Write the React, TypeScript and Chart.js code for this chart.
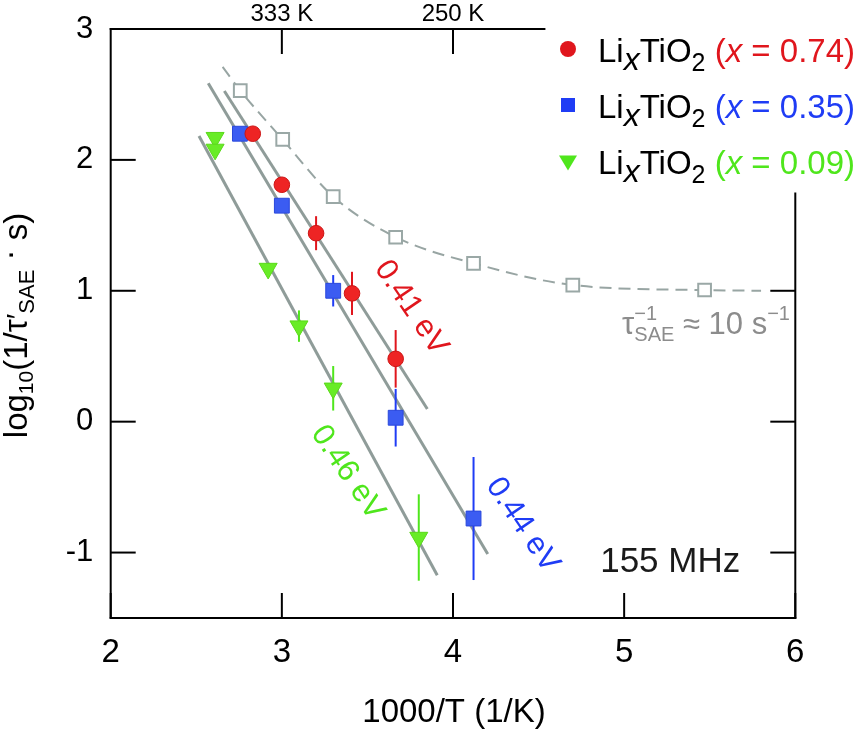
import React, { useEffect, useRef } from 'react';
import { Chart, registerables } from 'chart.js';
Chart.register(...registerables);

// ---------- data ----------
const redX = [2.83, 3.0, 3.2, 3.41, 3.665];
const redY = [2.2, 1.81, 1.44, 0.98, 0.48];
const redErr = [0, 0, 0.13, 0.165, 0.22];

const blueX = [2.755, 3.0, 3.3, 3.665, 4.12];
const blueY = [2.2, 1.65, 1.0, 0.03, -0.74];
const blueErr = [0, 0, 0.12, 0.22, 0.47];

const greenX = [2.61, 2.61, 2.92, 3.1, 3.3, 3.8];
const greenY = [2.17, 2.08, 1.17, 0.73, 0.255, -0.885];
const greenErr = [0, 0, 0, 0.12, 0.17, 0.33];

const grayX = [2.757, 3.005, 3.3, 3.665, 4.12, 4.7, 5.47];
const grayY = [2.53, 2.157, 1.72, 1.409, 1.21, 1.044, 1.006];

const curveX = [2.654, 2.757, 3.005, 3.3, 3.665, 4.12, 4.7, 5.47, 5.8];
const curveY = [2.71, 2.53, 2.155, 1.72, 1.41, 1.21, 1.044, 1.005, 1.0];

const fitRedX = [2.664, 3.85];
const fitRedY = [2.526, 0.097];
const fitBlueX = [2.57, 4.203];
const fitBlueY = [2.585, -1.011];
const fitGreenX = [2.516, 3.908];
const fitGreenY = [2.183, -1.173];

const xTicks = [2, 3, 4, 5, 6];
const yTicks = [-1, 0, 1, 2, 3];
const topTickValues = [3, 4];
const topTickLabels = ['333 K', '250 K'];
const rightTickValues = [1, 0, -1];
const legendValues = ['0.74', '0.35', '0.09'];
const energyLabels = ['0.41 eV', '0.44 eV', '0.46 eV'];

// ---------- layout / style (not data) ----------
const FAM = '"Liberation Sans", Arial, Helvetica, sans-serif';
const RED = '#e0161d';
const BLUE = '#1f3cf5';
const GREEN = '#4fe61c';
const GRAYLINE = '#8f9c99';
const TOP_AXIS_END = 4.54;
const RIGHT_AXIS_START = 1.75;
const energyPos = [
  { x: 3.755, y: 0.87, color: RED },
  { x: 4.406, y: -0.79, color: BLUE },
  { x: 3.384, y: -0.39, color: GREEN },
];

type Seg = { t: string; size: number; color?: string; italic?: boolean; dy?: number; noAdv?: boolean };
const fnt = (s: Seg) => `${s.italic ? 'italic ' : ''}${s.size}px ${FAM}`;
function richWidth(ctx: CanvasRenderingContext2D, segs: Seg[]) {
  let w = 0;
  for (const s of segs) {
    ctx.font = fnt(s);
    if (!s.noAdv) w += ctx.measureText(s.t).width;
  }
  return w;
}
function drawRich(ctx: CanvasRenderingContext2D, segs: Seg[], x: number, y: number, align: string, def: string) {
  const w = richWidth(ctx, segs);
  let cx = align === 'left' ? x : align === 'center' ? x - w / 2 : x - w;
  ctx.textAlign = 'left';
  ctx.textBaseline = 'alphabetic';
  for (const s of segs) {
    ctx.font = fnt(s);
    ctx.fillStyle = s.color || def;
    ctx.fillText(s.t, cx, y + (s.dy || 0));
    if (!s.noAdv) cx += ctx.measureText(s.t).width;
  }
}

const pts = (xs: number[], ys: number[]) => xs.map((x, i) => ({ x, y: ys[i] }));

const errSets: Record<number, { xs: number[]; ys: number[]; es: number[]; color: string }> = {
  0: { xs: redX, ys: redY, es: redErr, color: RED },
  1: { xs: blueX, ys: blueY, es: blueErr, color: BLUE },
  2: { xs: greenX, ys: greenY, es: greenErr, color: GREEN },
};

const errorBarPlugin = {
  id: 'errorBars',
  beforeDatasetDraw(chart: any, args: any) {
    const set = errSets[args.index];
    if (!set) return;
    const { ctx, scales } = chart;
    ctx.save();
    ctx.strokeStyle = set.color;
    ctx.lineWidth = 2;
    set.xs.forEach((x, i) => {
      const e = set.es[i];
      if (!e) return;
      const px = scales.x.getPixelForValue(x);
      ctx.beginPath();
      ctx.moveTo(px, scales.y.getPixelForValue(set.ys[i] + e));
      ctx.lineTo(px, scales.y.getPixelForValue(set.ys[i] - e));
      ctx.stroke();
    });
    ctx.restore();
  },
};

const decorPlugin = {
  id: 'decor',
  afterDraw(chart: any) {
    const { ctx, chartArea, scales } = chart;
    const { left: L, right: R, top: T, bottom: B } = chartArea;
    const px = (v: number) => scales.x.getPixelForValue(v);
    const py = (v: number) => scales.y.getPixelForValue(v);
    ctx.save();
    ctx.strokeStyle = '#000';
    ctx.lineWidth = 2;
    ctx.lineCap = 'butt';
    const line = (x1: number, y1: number, x2: number, y2: number) => {
      ctx.beginPath();
      ctx.moveTo(x1, y1);
      ctx.lineTo(x2, y2);
      ctx.stroke();
    };
    // axes
    line(L, T - 1, L, B + 1);
    line(L - 1, B, R + 1, B);
    line(L - 1, T, px(TOP_AXIS_END), T);
    line(R, py(RIGHT_AXIS_START), R, B + 1);
    const TL = 25;
    yTicks.forEach((v) => line(L, py(v), L + TL, py(v)));
    xTicks.forEach((v) => line(px(v), B, px(v), B - TL));
    topTickValues.forEach((v) => line(px(v), T, px(v), T + TL));
    rightTickValues.forEach((v) => line(R, py(v), R - TL, py(v)));

    // top labels
    ctx.fillStyle = '#000';
    ctx.font = `24px ${FAM}`;
    ctx.textAlign = 'center';
    ctx.textBaseline = 'alphabetic';
    topTickValues.forEach((v, i) => ctx.fillText(topTickLabels[i], px(v), T - 8));

    // x title
    ctx.font = `33px ${FAM}`;
    ctx.fillText('1000/T (1/K)', (L + R) / 2 + 1, 722);

    // y title
    ctx.save();
    ctx.translate(27, (T + B) / 2 + 2);
    ctx.rotate(-Math.PI / 2);
    drawRich(
      ctx,
      [
        { t: 'log', size: 33 },
        { t: '10', size: 21, dy: 6 },
        { t: '(1/\u03C4', size: 33 },
        { t: '\u2032', size: 30 },
        { t: 'SAE', size: 22, dy: 7 },
        { t: ' \u00B7', size: 33, dy: -7 },
        { t: ' s)', size: 33 },
      ],
      0,
      0,
      'center',
      '#000'
    );
    ctx.restore();

    // legend
    const rows = [49, 105, 161.5];
    const colors = [RED, BLUE, GREEN];
    const mx = 568;
    rows.forEach((ry, i) => {
      const c = colors[i];
      ctx.fillStyle = c;
      ctx.beginPath();
      if (i === 0) {
        ctx.arc(mx, ry, 8, 0, Math.PI * 2);
      } else if (i === 1) {
        ctx.rect(mx - 7, ry - 7, 14, 14);
      } else {
        ctx.moveTo(mx - 9, ry - 6);
        ctx.lineTo(mx + 9, ry - 6);
        ctx.lineTo(mx, ry + 9);
        ctx.closePath();
      }
      ctx.fill();
      drawRich(
        ctx,
        [
          { t: 'Li', size: 33 },
          { t: 'x', size: 32, italic: true, dy: 8 },
          { t: 'TiO', size: 33 },
          { t: '2', size: 25, dy: 9 },
          { t: ' (', size: 33, color: c },
          { t: 'x', size: 33, italic: true, color: c },
          { t: ' = ' + legendValues[i] + ')', size: 33, color: c },
        ],
        598,
        ry + 12.5,
        'left',
        '#000'
      );
    });

    // activation energy labels
    energyLabels.forEach((txt, i) => {
      const p = energyPos[i];
      ctx.save();
      ctx.translate(px(p.x), py(p.y));
      ctx.rotate((56 * Math.PI) / 180);
      ctx.font = `31px ${FAM}`;
      ctx.fillStyle = p.color;
      ctx.textAlign = 'center';
      ctx.textBaseline = 'middle';
      ctx.fillText(txt, 0, 0);
      ctx.restore();
    });

    // tau annotation
    drawRich(
      ctx,
      [
        { t: '\u03C4', size: 31 },
        { t: '\u22121', size: 20, dy: -14, noAdv: true },
        { t: 'SAE', size: 20, dy: 7 },
        { t: ' \u2248 10 s', size: 31 },
        { t: '\u22121', size: 20, dy: -14 },
      ],
      px(4.988),
      py(0.67),
      'left',
      '#8c8c8c'
    );

    // frequency
    ctx.font = `35px ${FAM}`;
    ctx.fillStyle = '#1a1a1a';
    ctx.textAlign = 'left';
    ctx.textBaseline = 'alphabetic';
    ctx.fillText('155 MHz', px(4.86), py(-1.148));
    ctx.restore();
  },
};

export default function App() {
  const ref = useRef<HTMLCanvasElement>(null);
  useEffect(() => {
    document.body.style.margin = '0';
    const chart = new Chart(ref.current as HTMLCanvasElement, {
      type: 'scatter',
      data: {
        datasets: [
          {
            data: pts(redX, redY),
            pointStyle: 'circle',
            pointRadius: 7.8,
            backgroundColor: '#ee2424',
            borderColor: '#cc1414',
            borderWidth: 1,
            order: 1,
          },
          {
            data: pts(blueX, blueY),
            pointStyle: 'rect',
            pointRadius: 10.5,
            backgroundColor: '#3b5cf2',
            borderColor: '#2a48dc',
            borderWidth: 1,
            order: 2,
          },
          {
            data: pts(greenX, greenY),
            pointStyle: 'triangle',
            pointRotation: 180,
            pointRadius: 10.4,
            backgroundColor: '#68ec26',
            borderColor: '#5ad81a',
            borderWidth: 1,
            order: 3,
          },
          {
            data: pts(grayX, grayY),
            pointStyle: 'rect',
            pointRadius: 9,
            backgroundColor: '#ffffff',
            borderColor: '#9aa8a6',
            borderWidth: 2,
            order: 4,
          },
          {
            data: pts(curveX, curveY),
            showLine: true,
            pointRadius: 0,
            borderColor: '#98a5a3',
            borderWidth: 2,
            borderDash: [12, 7],
            cubicInterpolationMode: 'monotone',
            order: 5,
          },
          {
            data: pts(fitRedX, fitRedY),
            showLine: true,
            pointRadius: 0,
            borderColor: GRAYLINE,
            borderWidth: 3,
            order: 6,
          },
          {
            data: pts(fitBlueX, fitBlueY),
            showLine: true,
            pointRadius: 0,
            borderColor: GRAYLINE,
            borderWidth: 3,
            order: 7,
          },
          {
            data: pts(fitGreenX, fitGreenY),
            showLine: true,
            pointRadius: 0,
            borderColor: GRAYLINE,
            borderWidth: 3,
            order: 8,
          },
        ] as any,
      },
      options: {
        animation: false,
        responsive: true,
        maintainAspectRatio: false,
        layout: { padding: { top: 29, right: 63.7, left: 0, bottom: 0 } },
        plugins: { legend: { display: false }, tooltip: { enabled: false } },
        scales: {
          x: {
            type: 'linear',
            min: 2,
            max: 6,
            afterFit: (s: any) => {
              s.height = 114;
              s.paddingLeft = 0;
              s.paddingRight = 0;
            },
            afterBuildTicks: (s: any) => {
              s.ticks = xTicks.map((v) => ({ value: v }));
            },
            grid: { display: false, drawTicks: false },
            border: { display: false },
            ticks: {
              padding: 15,
              color: '#000',
              font: { family: FAM, size: 33 },
              maxRotation: 0,
            },
          },
          y: {
            type: 'linear',
            min: -1.5,
            max: 3,
            afterFit: (s: any) => {
              s.width = 110.7;
              s.paddingTop = 0;
              s.paddingBottom = 0;
            },
            afterBuildTicks: (s: any) => {
              s.ticks = yTicks.map((v) => ({ value: v }));
            },
            grid: { display: false, drawTicks: false },
            border: { display: false },
            ticks: {
              padding: 17.5,
              color: '#000',
              font: { family: FAM, size: 31 },
            },
          },
        },
      } as any,
      plugins: [errorBarPlugin, decorPlugin],
    });
    return () => chart.destroy();
  }, []);
  return (
    <div style={{ position: 'absolute', left: 0, top: 0, width: 859, height: 732 }}>
      <canvas ref={ref} />
    </div>
  );
}
